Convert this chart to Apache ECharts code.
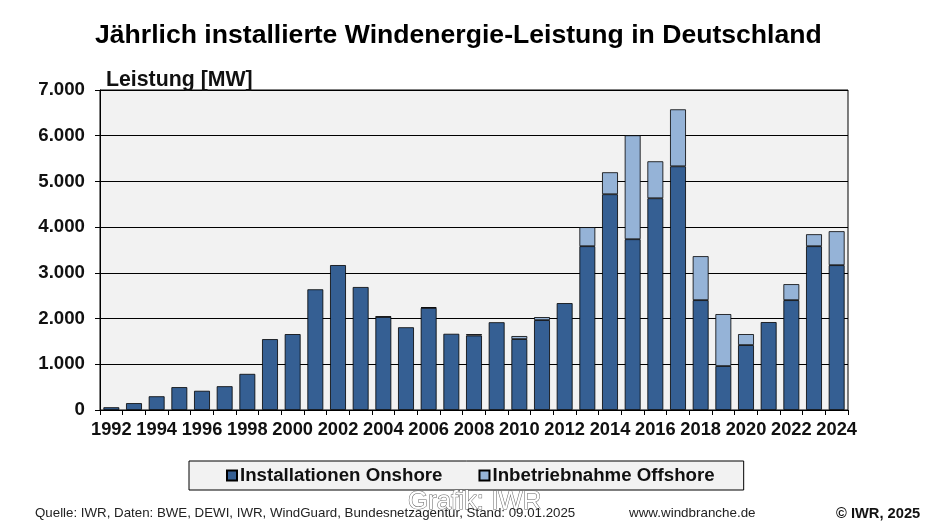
<!DOCTYPE html>
<html>
<head>
    <meta charset="utf-8" />
    <script type="text/javascript" src="https://cdn.jsdelivr.net/npm/echarts@6/dist/echarts.min.js"></script>
    <style>
      html, body { margin: 0; padding: 0; background: #fff; }
      #container { width: 933px; height: 529px; }
    </style>
</head>
<body>
<div id="container"></div>
<script>
var years = ['1992','1993','1994','1995','1996','1997','1998','1999','2000','2001','2002','2003','2004','2005','2006','2007','2008','2009','2010','2011','2012','2013','2014','2015','2016','2017','2018','2019','2020','2021','2022','2023','2024'];
var onshore = [60,150,300,500,420,520,790,1550,1660,2640,3170,2690,2037,1810,2233,1667,1630,1920,1551,1966,2338,3583,4720,3736,4632,5331,2403,961,1420,1923,2403,3583,3168];
var offshore = [null,null,null,null,null,null,null,null,null,null,null,null,7,null,15,null,30,null,66,66,null,417,480,2273,808,1246,962,1137,240,null,350,262,743];

var font = '"Liberation Sans", Arial, sans-serif';
var myChart = echarts.init(document.getElementById('container'), null, { renderer: 'canvas' });

var option = {
  animation: false,
  backgroundColor: '#ffffff',
  textStyle: { fontFamily: font },
  title: [
    { text: 'Jährlich installierte Windenergie-Leistung in Deutschland', left: 90, top: 17,
      textStyle: { fontFamily: font, fontSize: 26.6, fontWeight: 'bold', color: '#000' } },
    { text: 'Leistung [MW]', left: 101, top: 65,
      textStyle: { fontFamily: font, fontSize: 21.3, fontWeight: 'bold', color: '#111' } },
    { text: 'Grafik: IWR', left: 403, top: 484,
      textStyle: { fontFamily: font, fontSize: 25.8, fontWeight: 'normal', color: '#fff', textBorderColor: '#666', textBorderWidth: 1 } },
    { text: 'Quelle: IWR, Daten: BWE, DEWI, IWR, WindGuard, Bundesnetzagentur, Stand: 09.01.2025', left: 30, top: 502,
      textStyle: { fontFamily: font, fontSize: 13.3, fontWeight: 'normal', color: '#222' } },
    { text: 'www.windbranche.de', left: 624, top: 502,
      textStyle: { fontFamily: font, fontSize: 13.4, fontWeight: 'normal', color: '#222' } },
    { text: '© IWR, 2025', left: 831, top: 501,
      textStyle: { fontFamily: font, fontSize: 14.7, fontWeight: 'bold', color: '#111' } }
  ],
  legend: {
    left: 189, top: 461,
    itemWidth: 10, itemHeight: 10, itemGap: 36,
    padding: [5, 29, 5, 37],
    backgroundColor: '#f2f2f2',
    borderColor: '#000',
    borderWidth: 1,
    borderRadius: 0,
    icon: 'rect',
    textStyle: { fontFamily: font, fontSize: 18.7, fontWeight: 'bold', color: '#111', padding: [0, 0, 0, -2] },
    data: ['Installationen Onshore', 'Inbetriebnahme Offshore']
  },
  grid: { left: 100, right: 85, top: 90, bottom: 119, show: true, backgroundColor: '#f2f2f2', borderColor: '#000', borderWidth: 1 },
  xAxis: {
    type: 'category',
    data: years,
    boundaryGap: true,
    axisLine: { lineStyle: { color: '#000', width: 1 } },
    axisTick: { show: true, interval: 0, length: 5, alignWithLabel: false, lineStyle: { color: '#000' } },
    axisLabel: { interval: 1, color: '#111', fontFamily: font, fontSize: 18.3, fontWeight: 'bold', margin: 11, hideOverlap: false }
  },
  yAxis: {
    type: 'value',
    min: 0,
    max: 7000,
    interval: 1000,
    axisLine: { show: true, lineStyle: { color: '#000', width: 1 } },
    axisTick: { show: true, length: 5, lineStyle: { color: '#000' } },
    splitLine: { show: true, lineStyle: { color: '#000', width: 1 } },
    axisLabel: {
      color: '#111', fontFamily: font, fontSize: 18.7, fontWeight: 'bold', margin: 15,
      formatter: function (v) { return String(v).replace(/\B(?=(\d{3})+$)/g, '.'); }
    }
  },
  series: [
    { name: 'Installationen Onshore', type: 'bar', stack: 'a', barWidth: '70%', data: onshore,
      itemStyle: { color: '#355f93', borderColor: '#000', borderWidth: 0.8 } },
    { name: 'Inbetriebnahme Offshore', type: 'bar', stack: 'a', barWidth: '70%', data: offshore,
      itemStyle: { color: '#95b3d7', borderColor: '#000', borderWidth: 0.8 } }
  ]
};
myChart.setOption(option);
</script>
</body>
</html>
